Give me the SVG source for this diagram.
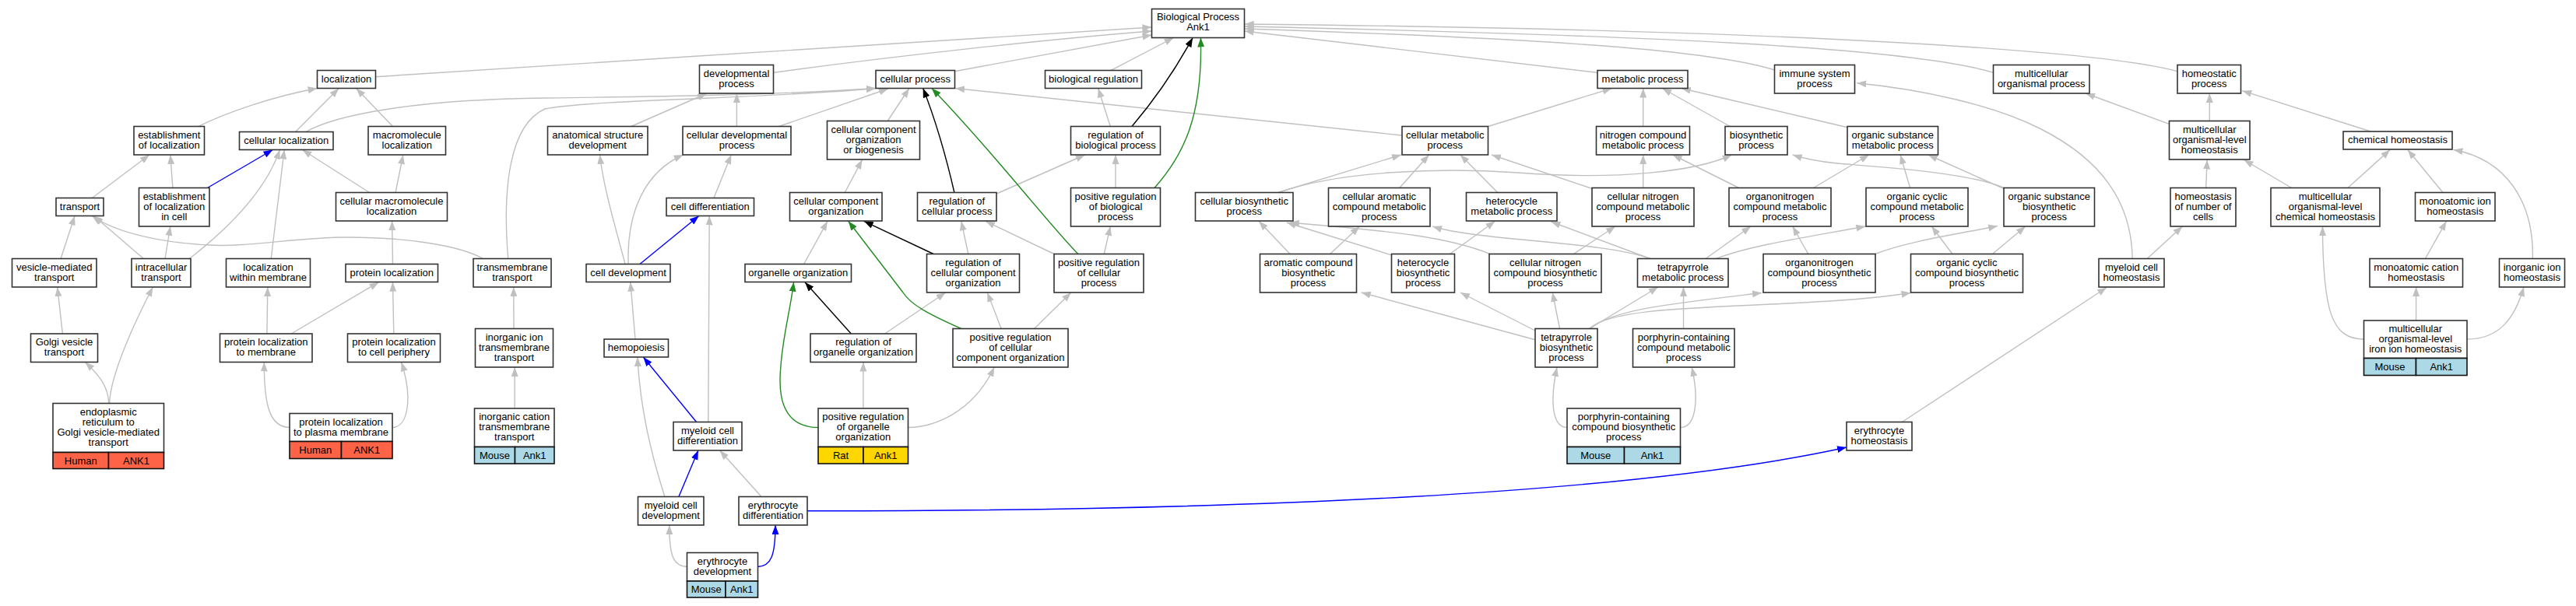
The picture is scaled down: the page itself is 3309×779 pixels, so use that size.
<svg xmlns="http://www.w3.org/2000/svg" width="3309" height="779" viewBox="0 0 3309 779">
<style>
.e{fill:none;stroke:#c0c0c0;stroke-width:1.4;marker-end:url(#ag)}
.k{fill:none;stroke:#000;stroke-width:1.4;marker-end:url(#ak)}
.b{fill:none;stroke:#0000ff;stroke-width:1.4;marker-end:url(#ab)}
.g{fill:none;stroke:#228b22;stroke-width:1.4;marker-end:url(#agr)}
.n rect{fill:#fff;stroke:#333;stroke-width:1.6}
.n rect.h{fill:#ff6347;stroke:#111}
.n rect.m{fill:#add8e6;stroke:#111}
.n rect.r{fill:#ffd700;stroke:#111}
text{font-family:"Liberation Sans",Arial,sans-serif;font-size:13px;text-anchor:middle;fill:#000}
</style>
<defs>
<marker id="ag" viewBox="0 0 12 9" refX="12" refY="4.5" markerWidth="12" markerHeight="9" markerUnits="userSpaceOnUse" orient="auto"><path d="M0,0L12,4.5L0,9z" fill="#c0c0c0"/></marker>
<marker id="ak" viewBox="0 0 12 9" refX="12" refY="4.5" markerWidth="12" markerHeight="9" markerUnits="userSpaceOnUse" orient="auto"><path d="M0,0L12,4.5L0,9z" fill="#000"/></marker>
<marker id="ab" viewBox="0 0 12 9" refX="12" refY="4.5" markerWidth="12" markerHeight="9" markerUnits="userSpaceOnUse" orient="auto"><path d="M0,0L12,4.5L0,9z" fill="#0000ff"/></marker>
<marker id="agr" viewBox="0 0 12 9" refX="12" refY="4.5" markerWidth="12" markerHeight="9" markerUnits="userSpaceOnUse" orient="auto"><path d="M0,0L12,4.5L0,9z" fill="#228b22"/></marker>
</defs>
<rect x="0" y="0" width="3309" height="779" fill="#fff"/>
<g id="connectors">
<path class="e" d="M254.5,162.7 C290,145 350,124 407.6,113.5"/>
<path class="e" d="M379.5,169.5 L435.3,113.5"/>
<path class="e" d="M504.5,162.5 L457.6,113.5"/>
<path class="e" d="M482.6,98.7 C800,80 1200,50 1479.5,35"/>
<path class="e" d="M392.9,169.5 C430,148 530,128 700,126 C850,124 1000,122 1125,113.5"/>
<path class="e" d="M652.7,332.5 C645,240 655,160 700,140 C760,128 1000,126 1125,113.5"/>
<path class="e" d="M620.5,332.5 C590,315 520,305 446,305 C380,305 320,318 268,315 C210,312 150,300 118.3,277.5"/>
<path class="e" d="M118.3,254.5 L192,199"/>
<path class="e" d="M221.9,241.5 L218.8,199"/>
<path class="e" d="M474.6,247.5 L388.4,192.5"/>
<path class="e" d="M508,247.5 L517.9,199"/>
<path class="e" d="M78.1,332.5 L96,277.5"/>
<path class="e" d="M184.4,332.5 L120.5,277.5"/>
<path class="e" d="M212,332.5 L218.8,291"/>
<path class="e" d="M243.3,332.5 C285,300 340,250 359.4,192.5"/>
<path class="e" d="M348.2,332.5 L365.2,192.5"/>
<path class="e" d="M504.5,339.5 L503.6,284"/>
<path class="e" d="M80.4,429 L73.7,369"/>
<path class="e" d="M139.7,518.5 C139,495 125,480 109.4,465.5"/>
<path class="e" d="M140.6,518.5 C142,480 175,410 196.4,369"/>
<path class="e" d="M342.9,429 L343.8,369"/>
<path class="e" d="M374.1,429 L486.6,362.7"/>
<path class="e" d="M505.8,429 L504.5,362.7"/>
<path class="e" d="M372,549.5 C348,549 339,525 339.3,465.5"/>
<path class="e" d="M504,549.5 C525,549 530,510 515.6,465.5"/>
<path class="e" d="M660,422.5 L659.8,369"/>
<path class="e" d="M661.2,525 L661.2,472"/>
<path class="e" d="M993.3,93.3 C1150,72 1350,50 1479.5,40"/>
<path class="e" d="M1226.3,91.7 L1479.5,45"/>
<path class="e" d="M810.7,162.5 L908,120"/>
<path class="e" d="M946.4,162.5 L946.4,120"/>
<path class="e" d="M1000.4,162.5 L1141,114"/>
<path class="e" d="M1140.2,155.5 L1167.9,113.5"/>
<path class="e" d="M1800.9,174 L1227,113.5"/>
<path class="e" d="M1279,249.5 L1393.8,199"/>
<path class="e" d="M1354,326.5 L1266,284.3"/>
<path class="e" d="M1243.8,326.5 L1234.8,284.3"/>
<path class="e" d="M1032.6,339.5 L1063,284.3"/>
<path class="e" d="M1085.3,247.5 L1107.6,205.3"/>
<path class="e" d="M917,254.5 L939.3,199"/>
<path class="e" d="M807.1,339.5 C805,270 830,220 877.7,199"/>
<path class="e" d="M803.1,339.5 C790,290 775,240 770.5,199"/>
<path class="e" d="M909.8,542.5 L911.2,277.5"/>
<path class="e" d="M816,436 L809.8,362.7"/>
<path class="e" d="M854,638.5 C835,580 822,520 818.8,459"/>
<path class="e" d="M978.1,638.5 L924.6,579"/>
<path class="e" d="M882.5,728.5 C865,728 859.8,715 859.8,675"/>
<path class="e" d="M1136.6,429 L1214.7,376"/>
<path class="e" d="M1108.9,525 L1108.9,465.5"/>
<path class="e" d="M1166.5,549.5 C1200,549 1250,530 1277.2,472"/>
<path class="e" d="M1286.2,422.5 L1268.3,376"/>
<path class="e" d="M1328.6,422.5 L1375.9,376"/>
<path class="e" d="M1427.2,90.3 L1507.6,48.5"/>
<path class="e" d="M1426.3,162.5 L1410.7,113.5"/>
<path class="e" d="M1433,241.5 L1433,199"/>
<path class="e" d="M1418.3,326.5 L1426.3,291"/>
<path class="e" d="M1911.6,162.5 L2070.5,113.5"/>
<path class="e" d="M1641.5,247.5 L1800,199"/>
<path class="e" d="M1643.8,247 C1720,220 1850,215 1950,222 C2080,232 2180,220 2224.6,199"/>
<path class="e" d="M1797.8,241.5 L1835.7,199"/>
<path class="e" d="M1923.7,247.5 L1875.9,199"/>
<path class="e" d="M2045.1,242.5 L1916,199"/>
<path class="e" d="M1657.1,326.5 L1617,284.3"/>
<path class="e" d="M1708.5,326.5 L1746.4,291"/>
<path class="e" d="M1788.8,328.3 L1652.7,286"/>
<path class="e" d="M1862.5,326.5 L1920.5,284.3"/>
<path class="e" d="M1913.8,326.5 C1850,300 1750,295 1657,286"/>
<path class="e" d="M2119.6,332.5 C2060,310 1900,310 1840.2,291"/>
<path class="e" d="M2119.6,332.5 L1992.4,285"/>
<path class="e" d="M1972,436.7 L1748.7,376"/>
<path class="e" d="M1972,425 L1875.9,376"/>
<path class="e" d="M2003.6,422.5 L1994.2,376"/>
<path class="e" d="M2041.5,422.5 L2130,369"/>
<path class="e" d="M2043.8,422 C2070,398 2150,390 2263,376.5"/>
<path class="e" d="M2041.5,422.5 C2080,385 2300,400 2454.5,376.5"/>
<path class="e" d="M2162.5,422.5 L2162.5,369"/>
<path class="e" d="M2013,549.5 C1995,549 1990,520 2000,472"/>
<path class="e" d="M2158.5,549.5 C2180,549 2182,510 2173.2,472"/>
<path class="e" d="M2051.8,93.3 L1598.7,40"/>
<path class="e" d="M2279.5,90 C2200,65 2000,50 1598.7,37"/>
<path class="e" d="M2560.7,93.3 C2450,60 2100,45 1598.7,34"/>
<path class="e" d="M2797.1,91.7 C2700,65 2300,38 1598.7,31"/>
<path class="e" d="M2110.7,162.5 L2110.7,113.5"/>
<path class="e" d="M2222.3,162.5 L2135.3,113.5"/>
<path class="e" d="M2374.1,164 L2159.8,113.5"/>
<path class="e" d="M2110.7,241.5 L2110.7,199"/>
<path class="e" d="M2233.5,241.5 L2148.7,199"/>
<path class="e" d="M2329.5,241.5 L2400.9,199"/>
<path class="e" d="M2453.6,241.5 L2441.1,199"/>
<path class="e" d="M2574.1,242.7 L2476.8,199"/>
<path class="e" d="M2574.1,241.5 C2530,222 2420,215 2360,210 C2330,207 2315,203 2302.7,199"/>
<path class="e" d="M2021.4,326.5 L2075,291"/>
<path class="e" d="M2191,332.5 L2249.1,291"/>
<path class="e" d="M2204.5,332.5 C2250,315 2320,305 2396.4,291"/>
<path class="e" d="M2322.8,326.5 L2302.7,291"/>
<path class="e" d="M2408.9,326.5 C2450,310 2520,300 2566,290.5"/>
<path class="e" d="M2508,326.5 L2481.3,291"/>
<path class="e" d="M2559.4,326.5 L2601.8,291"/>
<path class="e" d="M2443.3,542.5 L2706.2,369.5"/>
<path class="e" d="M2739.2,332.5 C2738,260 2700,205 2620,165 C2560,135 2470,115 2385.3,106.7"/>
<path class="e" d="M2758.2,332.5 L2803.4,291"/>
<path class="e" d="M2833.7,241.5 L2835.1,205.5"/>
<path class="e" d="M2838.3,155.5 L2838.3,120"/>
<path class="e" d="M2786.3,159.3 L2679.1,120"/>
<path class="e" d="M3045.3,169 L2880.3,116.7"/>
<path class="e" d="M2943.6,241.5 L2882.5,205.5"/>
<path class="e" d="M3015.9,241.5 L3070.2,192.5"/>
<path class="e" d="M3138,247.5 L3092.8,192.5"/>
<path class="e" d="M3253.3,332.5 C3255,260 3220,205 3151.5,192.5"/>
<path class="e" d="M3115.4,332.5 L3142.5,284.3"/>
<path class="e" d="M3036.5,436 C2995,436 2984,400 2983.4,291"/>
<path class="e" d="M3103.6,412 L3103.6,369"/>
<path class="e" d="M3169,436 C3210,436 3230,410 3242,369"/>
<path class="k" d="M1225.9,247.5 C1215,200 1200,150 1185.7,113.5"/>
<path class="k" d="M1199.1,326.5 L1109.8,284.3"/>
<path class="k" d="M1093.3,429 L1034,362.7"/>
<path class="k" d="M1454,162.5 C1490,120 1515,80 1532.1,48.5"/>
<path class="g" d="M1384.8,326.5 C1340,280 1280,200 1196.9,113.5"/>
<path class="g" d="M1234.8,422.5 C1195,405 1170,392 1160,376 L1089.7,284.3"/>
<path class="g" d="M1051,549.5 C1000,549 1000,500 1003,470 C1006,430 1015,400 1019.6,362.7"/>
<path class="g" d="M1483,241.5 C1520,200 1545,150 1542.4,48.5"/>
<path class="b" d="M266.5,241.5 L350.4,192.5"/>
<path class="b" d="M821.9,339.5 L897.8,277.5"/>
<path class="b" d="M894.6,542.5 L826.3,459"/>
<path class="b" d="M871.9,638.5 L896.9,579"/>
<path class="b" d="M973.5,728.5 C990,728 996,715 996,675"/>
<path class="b" d="M1037,656.7 C1600,657 2100,635 2372,575"/>
</g>
<g id="localization" class="n"><rect x="407.5" y="90.5" width="75" height="23"/><text x="445" y="105.5">localization</text></g>
<g id="establishment_of_localization" class="n"><rect x="172" y="162.5" width="90.5" height="36.5"/><text x="217.25" y="177.75">establishment<tspan x="217.25" dy="13">of localization</tspan></text></g>
<g id="cellular_localization" class="n"><rect x="307.5" y="169.5" width="120.5" height="23"/><text x="367.75" y="184.5">cellular localization</text></g>
<g id="macromolecule_localization" class="n"><rect x="473" y="162.5" width="99.5" height="36.5"/><text x="522.75" y="177.75">macromolecule<tspan x="522.75" dy="13">localization</tspan></text></g>
<g id="transport" class="n"><rect x="72" y="254.5" width="61" height="23"/><text x="102.5" y="269.5">transport</text></g>
<g id="establishment_of_localization_in_cell" class="n"><rect x="178.5" y="241.5" width="90.5" height="49.5"/><text x="223.75" y="256.75">establishment<tspan x="223.75" dy="13">of localization</tspan><tspan x="223.75" dy="13">in cell</tspan></text></g>
<g id="cellular_macromolecule_localization" class="n"><rect x="431.5" y="247.5" width="143" height="36.5"/><text x="503" y="262.75">cellular macromolecule<tspan x="503" dy="13">localization</tspan></text></g>
<g id="vesicle_mediated_transport" class="n"><rect x="15.5" y="332.5" width="108.5" height="36.5"/><text x="69.75" y="347.75">vesicle-mediated<tspan x="69.75" dy="13">transport</tspan></text></g>
<g id="intracellular_transport" class="n"><rect x="169" y="332.5" width="76" height="36.5"/><text x="207" y="347.75">intracellular<tspan x="207" dy="13">transport</tspan></text></g>
<g id="localization_within_membrane" class="n"><rect x="290.5" y="332.5" width="108" height="36.5"/><text x="344.5" y="347.75">localization<tspan x="344.5" dy="13">within membrane</tspan></text></g>
<g id="protein_localization" class="n"><rect x="444" y="339.5" width="118.5" height="23"/><text x="503.25" y="354.5">protein localization</text></g>
<g id="transmembrane_transport" class="n"><rect x="608" y="332.5" width="100" height="36.5"/><text x="658" y="347.75">transmembrane<tspan x="658" dy="13">transport</tspan></text></g>
<g id="golgi_vesicle_transport" class="n"><rect x="39.5" y="429" width="86" height="36.5"/><text x="82.5" y="444.25">Golgi vesicle<tspan x="82.5" dy="13">transport</tspan></text></g>
<g id="er_to_golgi_vesicle_mediated_transport" class="n"><rect x="68" y="518.5" width="142.5" height="63"/><text x="139.25" y="534">endoplasmic<tspan x="139.25" dy="13">reticulum to</tspan><tspan x="139.25" dy="13">Golgi vesicle-mediated</tspan><tspan x="139.25" dy="13">transport</tspan></text><rect class="h" x="68" y="581.5" width="71.5" height="21"/><rect class="h" x="139.5" y="581.5" width="71" height="21"/><text x="103.75" y="596.5">Human</text><text x="175" y="596.5">ANK1</text></g>
<g id="protein_localization_to_membrane" class="n"><rect x="282.5" y="429" width="118.5" height="36.5"/><text x="341.75" y="444.25">protein localization<tspan x="341.75" dy="13">to membrane</tspan></text></g>
<g id="protein_localization_to_cell_periphery" class="n"><rect x="446.5" y="429" width="119" height="36.5"/><text x="506" y="444.25">protein localization<tspan x="506" dy="13">to cell periphery</tspan></text></g>
<g id="protein_localization_to_plasma_membrane" class="n"><rect x="372" y="531.5" width="132" height="36"/><text x="438" y="546.5">protein localization<tspan x="438" dy="13">to plasma membrane</tspan></text><rect class="h" x="372" y="567.5" width="66.5" height="22"/><rect class="h" x="438.5" y="567.5" width="65.5" height="22"/><text x="405.25" y="583">Human</text><text x="471.25" y="583">ANK1</text></g>
<g id="inorganic_ion_transmembrane_transport" class="n"><rect x="610.5" y="422.5" width="100" height="49.5"/><text x="660.5" y="437.75">inorganic ion<tspan x="660.5" dy="13">transmembrane</tspan><tspan x="660.5" dy="13">transport</tspan></text></g>
<g id="inorganic_cation_transmembrane_transport" class="n"><rect x="609.5" y="525" width="102.5" height="49.5"/><text x="660.75" y="540.25">inorganic cation<tspan x="660.75" dy="13">transmembrane</tspan><tspan x="660.75" dy="13">transport</tspan></text><rect class="m" x="609.5" y="574.5" width="52" height="21.5"/><rect class="m" x="661.5" y="574.5" width="50.5" height="21.5"/><text x="635.5" y="589.5">Mouse</text><text x="686.75" y="589.5">Ank1</text></g>
<g id="developmental_process" class="n"><rect x="898.5" y="83.5" width="95" height="36.5"/><text x="946" y="98.75">developmental<tspan x="946" dy="13">process</tspan></text></g>
<g id="cellular_process" class="n"><rect x="1125" y="90.5" width="101.5" height="23"/><text x="1175.75" y="105.5">cellular process</text></g>
<g id="anatomical_structure_development" class="n"><rect x="703.5" y="162.5" width="128.5" height="36.5"/><text x="767.75" y="177.75">anatomical structure<tspan x="767.75" dy="13">development</tspan></text></g>
<g id="cellular_developmental_process" class="n"><rect x="877" y="162.5" width="139" height="36.5"/><text x="946.5" y="177.75">cellular developmental<tspan x="946.5" dy="13">process</tspan></text></g>
<g id="cellular_component_organization_or_biogenesis" class="n"><rect x="1062.5" y="155.5" width="119" height="49.5"/><text x="1122" y="170.75">cellular component<tspan x="1122" dy="13">organization</tspan><tspan x="1122" dy="13">or biogenesis</tspan></text></g>
<g id="cell_differentiation" class="n"><rect x="856" y="254.5" width="112.5" height="23"/><text x="912.25" y="269.5">cell differentiation</text></g>
<g id="cellular_component_organization" class="n"><rect x="1014.5" y="247.5" width="118.5" height="36.5"/><text x="1073.75" y="262.75">cellular component<tspan x="1073.75" dy="13">organization</tspan></text></g>
<g id="regulation_of_cellular_process" class="n"><rect x="1178.5" y="247.5" width="101.5" height="36.5"/><text x="1229.25" y="262.75">regulation of<tspan x="1229.25" dy="13">cellular process</tspan></text></g>
<g id="cell_development" class="n"><rect x="753" y="339.5" width="108" height="23"/><text x="807" y="354.5">cell development</text></g>
<g id="organelle_organization" class="n"><rect x="957" y="339.5" width="136.5" height="23"/><text x="1025.25" y="354.5">organelle organization</text></g>
<g id="regulation_of_cellular_component_organization" class="n"><rect x="1190.5" y="326.5" width="119" height="49.5"/><text x="1250" y="341.75">regulation of<tspan x="1250" dy="13">cellular component</tspan><tspan x="1250" dy="13">organization</tspan></text></g>
<g id="hemopoiesis" class="n"><rect x="776" y="436" width="82.5" height="23"/><text x="817.25" y="451">hemopoiesis</text></g>
<g id="regulation_of_organelle_organization" class="n"><rect x="1041" y="429" width="136" height="36.5"/><text x="1109" y="444.25">regulation of<tspan x="1109" dy="13">organelle organization</tspan></text></g>
<g id="positive_regulation_of_cellular_component_organization" class="n"><rect x="1224" y="422.5" width="148" height="49.5"/><text x="1298" y="437.75">positive regulation<tspan x="1298" dy="13">of cellular</tspan><tspan x="1298" dy="13">component organization</tspan></text></g>
<g id="myeloid_cell_differentiation" class="n"><rect x="865" y="542.5" width="88" height="36.5"/><text x="909" y="557.75">myeloid cell<tspan x="909" dy="13">differentiation</tspan></text></g>
<g id="positive_regulation_of_organelle_organization" class="n"><rect x="1051" y="525" width="115.5" height="49.5"/><text x="1108.75" y="540.25">positive regulation<tspan x="1108.75" dy="13">of organelle</tspan><tspan x="1108.75" dy="13">organization</tspan></text><rect class="r" x="1051" y="574.5" width="58" height="21.5"/><rect class="r" x="1109" y="574.5" width="57.5" height="21.5"/><text x="1080" y="589.5">Rat</text><text x="1137.75" y="589.5">Ank1</text></g>
<g id="myeloid_cell_development" class="n"><rect x="819.5" y="638.5" width="84.5" height="36.5"/><text x="861.75" y="653.75">myeloid cell<tspan x="861.75" dy="13">development</tspan></text></g>
<g id="erythrocyte_differentiation" class="n"><rect x="949" y="638.5" width="88" height="36.5"/><text x="993" y="653.75">erythrocyte<tspan x="993" dy="13">differentiation</tspan></text></g>
<g id="erythrocyte_development" class="n"><rect x="882.5" y="710.5" width="91" height="36.5"/><text x="928" y="725.75">erythrocyte<tspan x="928" dy="13">development</tspan></text><rect class="m" x="882.5" y="747" width="49.5" height="21"/><rect class="m" x="932" y="747" width="41.5" height="21"/><text x="907.25" y="762">Mouse</text><text x="952.75" y="762">Ank1</text></g>
<g id="biological_process" class="n"><rect x="1479.5" y="11.5" width="119" height="37"/><text x="1539" y="26">Biological Process<tspan x="1539" dy="13">Ank1</tspan></text></g>
<g id="biological_regulation" class="n"><rect x="1342.5" y="90.5" width="124" height="23"/><text x="1404.5" y="105.5">biological regulation</text></g>
<g id="regulation_of_biological_process" class="n"><rect x="1375.5" y="162.5" width="115" height="36.5"/><text x="1433" y="177.75">regulation of<tspan x="1433" dy="13">biological process</tspan></text></g>
<g id="cellular_metabolic_process" class="n"><rect x="1801" y="162.5" width="110.5" height="36.5"/><text x="1856.25" y="177.75">cellular metabolic<tspan x="1856.25" dy="13">process</tspan></text></g>
<g id="positive_regulation_of_biological_process" class="n"><rect x="1375.5" y="241.5" width="115" height="49.5"/><text x="1433" y="256.75">positive regulation<tspan x="1433" dy="13">of biological</tspan><tspan x="1433" dy="13">process</tspan></text></g>
<g id="cellular_biosynthetic_process" class="n"><rect x="1535.5" y="247.5" width="125.5" height="36.5"/><text x="1598.25" y="262.75">cellular biosynthetic<tspan x="1598.25" dy="13">process</tspan></text></g>
<g id="cellular_aromatic_compound_metabolic_process" class="n"><rect x="1706.5" y="241.5" width="130.5" height="49.5"/><text x="1771.75" y="256.75">cellular aromatic<tspan x="1771.75" dy="13">compound metabolic</tspan><tspan x="1771.75" dy="13">process</tspan></text></g>
<g id="heterocycle_metabolic_process" class="n"><rect x="1883.5" y="247.5" width="116.5" height="36.5"/><text x="1941.75" y="262.75">heterocycle<tspan x="1941.75" dy="13">metabolic process</tspan></text></g>
<g id="positive_regulation_of_cellular_process" class="n"><rect x="1354" y="326.5" width="115" height="49.5"/><text x="1411.5" y="341.75">positive regulation<tspan x="1411.5" dy="13">of cellular</tspan><tspan x="1411.5" dy="13">process</tspan></text></g>
<g id="aromatic_compound_biosynthetic_process" class="n"><rect x="1618.5" y="326.5" width="124" height="49.5"/><text x="1680.5" y="341.75">aromatic compound<tspan x="1680.5" dy="13">biosynthetic</tspan><tspan x="1680.5" dy="13">process</tspan></text></g>
<g id="heterocycle_biosynthetic_process" class="n"><rect x="1787.5" y="326.5" width="81" height="49.5"/><text x="1828" y="341.75">heterocycle<tspan x="1828" dy="13">biosynthetic</tspan><tspan x="1828" dy="13">process</tspan></text></g>
<g id="cellular_nitrogen_compound_biosynthetic_process" class="n"><rect x="1913" y="326.5" width="144" height="49.5"/><text x="1985" y="341.75">cellular nitrogen<tspan x="1985" dy="13">compound biosynthetic</tspan><tspan x="1985" dy="13">process</tspan></text></g>
<g id="tetrapyrrole_biosynthetic_process" class="n"><rect x="1972" y="422.5" width="80" height="49.5"/><text x="2012" y="437.75">tetrapyrrole<tspan x="2012" dy="13">biosynthetic</tspan><tspan x="2012" dy="13">process</tspan></text></g>
<g id="metabolic_process" class="n"><rect x="2052" y="90.5" width="116" height="23"/><text x="2110" y="105.5">metabolic process</text></g>
<g id="immune_system_process" class="n"><rect x="2279.5" y="83.5" width="103" height="36.5"/><text x="2331" y="98.75">immune system<tspan x="2331" dy="13">process</tspan></text></g>
<g id="multicellular_organismal_process" class="n"><rect x="2560.5" y="83.5" width="123.5" height="36.5"/><text x="2622.25" y="98.75">multicellular<tspan x="2622.25" dy="13">organismal process</tspan></text></g>
<g id="nitrogen_compound_metabolic_process" class="n"><rect x="2050.5" y="162.5" width="120" height="36.5"/><text x="2110.5" y="177.75">nitrogen compound<tspan x="2110.5" dy="13">metabolic process</tspan></text></g>
<g id="biosynthetic_process" class="n"><rect x="2216" y="162.5" width="80" height="36.5"/><text x="2256" y="177.75">biosynthetic<tspan x="2256" dy="13">process</tspan></text></g>
<g id="organic_substance_metabolic_process" class="n"><rect x="2373" y="162.5" width="116.5" height="36.5"/><text x="2431.25" y="177.75">organic substance<tspan x="2431.25" dy="13">metabolic process</tspan></text></g>
<g id="cellular_nitrogen_compound_metabolic_process" class="n"><rect x="2045" y="241.5" width="131" height="49.5"/><text x="2110.5" y="256.75">cellular nitrogen<tspan x="2110.5" dy="13">compound metabolic</tspan><tspan x="2110.5" dy="13">process</tspan></text></g>
<g id="organonitrogen_compound_metabolic_process" class="n"><rect x="2221" y="241.5" width="131" height="49.5"/><text x="2286.5" y="256.75">organonitrogen<tspan x="2286.5" dy="13">compound metabolic</tspan><tspan x="2286.5" dy="13">process</tspan></text></g>
<g id="organic_cyclic_compound_metabolic_process" class="n"><rect x="2397" y="241.5" width="131" height="49.5"/><text x="2462.5" y="256.75">organic cyclic<tspan x="2462.5" dy="13">compound metabolic</tspan><tspan x="2462.5" dy="13">process</tspan></text></g>
<g id="organic_substance_biosynthetic_process" class="n"><rect x="2574" y="241.5" width="116.5" height="49.5"/><text x="2632.25" y="256.75">organic substance<tspan x="2632.25" dy="13">biosynthetic</tspan><tspan x="2632.25" dy="13">process</tspan></text></g>
<g id="tetrapyrrole_metabolic_process" class="n"><rect x="2103.5" y="332.5" width="116.5" height="36.5"/><text x="2161.75" y="347.75">tetrapyrrole<tspan x="2161.75" dy="13">metabolic process</tspan></text></g>
<g id="organonitrogen_compound_biosynthetic_process" class="n"><rect x="2265" y="326.5" width="144" height="49.5"/><text x="2337" y="341.75">organonitrogen<tspan x="2337" dy="13">compound biosynthetic</tspan><tspan x="2337" dy="13">process</tspan></text></g>
<g id="organic_cyclic_compound_biosynthetic_process" class="n"><rect x="2454.5" y="326.5" width="144" height="49.5"/><text x="2526.5" y="341.75">organic cyclic<tspan x="2526.5" dy="13">compound biosynthetic</tspan><tspan x="2526.5" dy="13">process</tspan></text></g>
<g id="porphyrin_containing_compound_metabolic_process" class="n"><rect x="2097.5" y="422.5" width="130.5" height="49.5"/><text x="2162.75" y="437.75">porphyrin-containing<tspan x="2162.75" dy="13">compound metabolic</tspan><tspan x="2162.75" dy="13">process</tspan></text></g>
<g id="porphyrin_containing_compound_biosynthetic_process" class="n"><rect x="2013" y="525" width="145.5" height="49.5"/><text x="2085.75" y="540.25">porphyrin-containing<tspan x="2085.75" dy="13">compound biosynthetic</tspan><tspan x="2085.75" dy="13">process</tspan></text><rect class="m" x="2013" y="574.5" width="73.5" height="21.5"/><rect class="m" x="2086.5" y="574.5" width="72" height="21.5"/><text x="2049.75" y="589.5">Mouse</text><text x="2122.5" y="589.5">Ank1</text></g>
<g id="erythrocyte_homeostasis" class="n"><rect x="2372" y="542.5" width="84" height="36.5"/><text x="2414" y="557.75">erythrocyte<tspan x="2414" dy="13">homeostasis</tspan></text></g>
<g id="homeostatic_process" class="n"><rect x="2797" y="83.5" width="81.5" height="36.5"/><text x="2837.75" y="98.75">homeostatic<tspan x="2837.75" dy="13">process</tspan></text></g>
<g id="multicellular_organismal_level_homeostasis" class="n"><rect x="2786.5" y="155.5" width="103.5" height="49.5"/><text x="2838.25" y="170.75">multicellular<tspan x="2838.25" dy="13">organismal-level</tspan><tspan x="2838.25" dy="13">homeostasis</tspan></text></g>
<g id="chemical_homeostasis" class="n"><rect x="3010" y="169" width="140" height="23"/><text x="3080" y="184">chemical homeostasis</text></g>
<g id="homeostasis_of_number_of_cells" class="n"><rect x="2788" y="241.5" width="84" height="49.5"/><text x="2830" y="256.75">homeostasis<tspan x="2830" dy="13">of number of</tspan><tspan x="2830" dy="13">cells</tspan></text></g>
<g id="multicellular_organismal_level_chemical_homeostasis" class="n"><rect x="2917" y="241.5" width="140" height="49.5"/><text x="2987" y="256.75">multicellular<tspan x="2987" dy="13">organismal-level</tspan><tspan x="2987" dy="13">chemical homeostasis</tspan></text></g>
<g id="monoatomic_ion_homeostasis" class="n"><rect x="3102.5" y="247.5" width="102.5" height="36.5"/><text x="3153.75" y="262.75">monoatomic ion<tspan x="3153.75" dy="13">homeostasis</tspan></text></g>
<g id="myeloid_cell_homeostasis" class="n"><rect x="2696" y="332.5" width="84" height="36.5"/><text x="2738" y="347.75">myeloid cell<tspan x="2738" dy="13">homeostasis</tspan></text></g>
<g id="monoatomic_cation_homeostasis" class="n"><rect x="3044" y="332.5" width="119.5" height="36.5"/><text x="3103.75" y="347.75">monoatomic cation<tspan x="3103.75" dy="13">homeostasis</tspan></text></g>
<g id="inorganic_ion_homeostasis" class="n"><rect x="3210.5" y="332.5" width="84" height="36.5"/><text x="3252.5" y="347.75">inorganic ion<tspan x="3252.5" dy="13">homeostasis</tspan></text></g>
<g id="multicellular_organismal_level_iron_ion_homeostasis" class="n"><rect x="3036.5" y="412" width="132.5" height="48.5"/><text x="3102.75" y="426.75">multicellular<tspan x="3102.75" dy="13">organismal-level</tspan><tspan x="3102.75" dy="13">iron ion homeostasis</tspan></text><rect class="m" x="3036.5" y="460.5" width="67" height="22"/><rect class="m" x="3103.5" y="460.5" width="65.5" height="22"/><text x="3070" y="476">Mouse</text><text x="3136.25" y="476">Ank1</text></g>
</svg>
